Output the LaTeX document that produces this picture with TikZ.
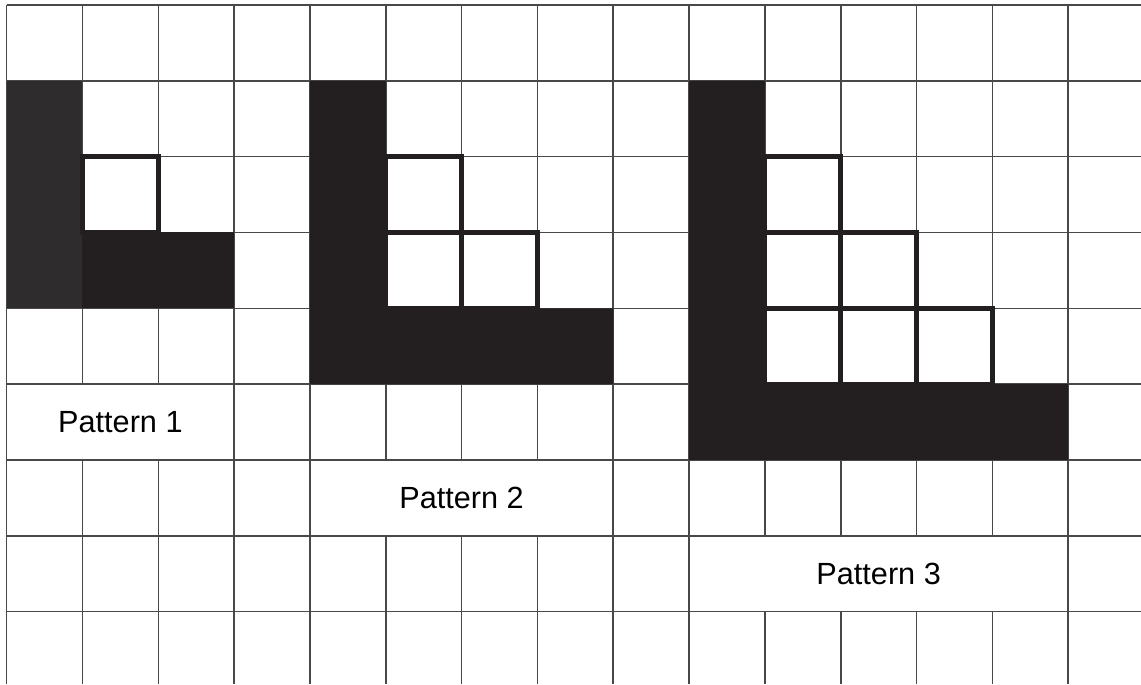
\documentclass[tikz,border=0pt]{standalone}
\usepackage{fontspec}
\setmainfont{Liberation Sans}
\usepackage{tikz}
\definecolor{ink}{HTML}{231F20}
\definecolor{inksoft}{HTML}{2E2C2D}
\definecolor{gridline}{HTML}{484848}

\begin{document}
\begin{tikzpicture}[x=1cm, y=-1cm, font=\fontsize{11.5}{14}\selectfont,
      lbl/.style={draw=gridline, line width=0.6pt, fill=white, minimum height=1cm,
                  inner sep=0pt, outer sep=0pt, anchor=north west},
      hole/.style={draw=ink, line width=1.7pt, fill=white}]
    \useasboundingbox (-0.088,-0.066) rectangle (14.96,8.96);
    \foreach \i in {0,...,14} \draw[gridline, line width=0.6pt] (\i,0) -- (\i,8.96);
    \foreach \j in {0,...,8} \draw[gridline, line width=0.6pt] (0,\j) -- (14.96,\j);
    \node[lbl, minimum width=3cm] (p1) at (0,5) {Pattern 1};
    \node[lbl, minimum width=4cm] (p2) at (4,6) {Pattern 2};
    \node[lbl, minimum width=5cm] (p3) at (9,7) {Pattern 3};
    \fill[inksoft] (0,1) rectangle (1,4);
    \fill[ink] (1,3) rectangle (3,4);
    \fill[ink] (4,1) -- (5,1) -- (5,4) -- (8,4) -- (8,5) -- (4,5) -- cycle;
    \fill[ink] (9,1) -- (10,1) -- (10,5) -- (14,5) -- (14,6) -- (9,6) -- cycle;
    \foreach \x/\y in {1/2, 5/2, 5/3, 6/3, 10/2, 10/3, 11/3, 10/4, 11/4, 12/4}
      \draw[hole] (\x,\y) rectangle ++(1,1);
\end{tikzpicture}
\end{document}
